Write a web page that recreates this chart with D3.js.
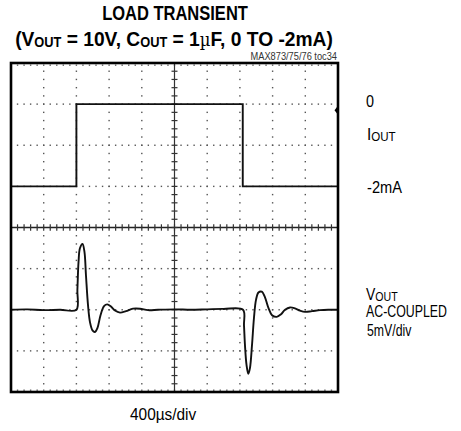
<!DOCTYPE html>
<html>
<head>
<meta charset="utf-8">
<script src="https://cdn.jsdelivr.net/npm/d3@7/dist/d3.min.js"></script>
<style>
  html, body { margin: 0; padding: 0; background: #fff; }
  svg { display: block; }
  text { font-family: "Liberation Sans", Arial, Helvetica, sans-serif; fill: #000; }
</style>
</head>
<body>
<svg id="chart" width="461" height="431"></svg>
<script>
// Time axis: 400 µs per division, 10 divisions
const timeDomain = [0, 4000];
const timeDivision = 400;
const minorPerDivision = 5;

// Channel 1: load current (mA), 1 mA/div, 8 divisions
const iDomain = [-7, 1];
const iTime = [0, 800, 800, 2835, 2835, 4000];
const iLoad = [-2, -2, 0, 0, -2, -2];

// Channel 2: output voltage deviation, AC-coupled (mV), 5 mV/div
const vDomain = [-10, 30];
const vTime = [0, 200, 400, 600, 800, 812, 826, 844, 875, 899, 917, 942, 966, 997, 1027, 1058, 1095, 1138, 1178, 1223, 1272, 1333, 1407, 1492, 1578, 1676, 1800, 2000, 2200, 2400, 2600, 2838, 2850, 2862, 2881, 2903, 2923, 2948, 2972, 2997, 3027, 3067, 3107, 3150, 3193, 3250, 3303, 3352, 3413, 3474, 3535, 3596, 3682, 3780, 3880, 4000];
const vOut  = [0, 0.05, -0.05, 0, 0, 2.4, 5.8, 7.5, 8.0, 7.0, 4.2, 0.56, -1.5, -2.5, -2.7, -2.2, -0.66, 0.44, 0.65, 0.38, -0.1, -0.35, -0.17, 0.13, 0.13, -0.05, 0, 0.05, 0, 0.05, 0.1, 0, -1.9, -4.3, -6.7, -7.8, -7.1, -4.3, -1.0, 1.2, 2.1, 2.2, 1.5, 0.2, -0.66, -0.86, -0.54, 0, 0.28, 0.16, -0.1, -0.26, -0.17, -0.05, 0, 0];

// Labels
const titleLine1 = "LOAD TRANSIENT";
const noteText = "MAX873/75/76 toc34";
const timebaseText = "400\u00B5s/div";

const svg = d3.select("#chart");
const plot = { left: 11, top: 63, right: 338, bottom: 392 };

const x = d3.scaleLinear().domain(timeDomain).range([plot.left, plot.right]);
const yI = d3.scaleLinear().domain(iDomain).range([plot.bottom, plot.top]);
const yV = d3.scaleLinear().domain(vDomain).range([plot.bottom, plot.top]);

// ---- Graticule ----
const grid = svg.append("g").attr("class", "graticule");
const majorX = d3.range(timeDomain[0] + timeDivision, timeDomain[1], timeDivision);
const majorY = d3.range(iDomain[0] + 1, iDomain[1], 1);
const minorXStep = timeDivision / minorPerDivision;
const minorYStep = 1 / minorPerDivision;
const minorX = d3.range(timeDomain[0], timeDomain[1] + 1e-6, minorXStep);
const minorY = d3.range(iDomain[0], iDomain[1] + 1e-6, minorYStep);
const centerT = (timeDomain[0] + timeDomain[1]) / 2;
const centerI = (iDomain[0] + iDomain[1]) / 2;
const dot = 1.4;

// dotted vertical division lines
majorX.filter(t => t !== centerT).forEach(t => {
  grid.selectAll(null).data(minorY).enter().append("rect")
    .attr("x", x(t) - dot / 2).attr("y", d => yI(d) - dot / 2)
    .attr("width", dot).attr("height", dot).attr("fill", "#555");
});
// dotted horizontal division lines
majorY.filter(v => v !== centerI).forEach(v => {
  grid.selectAll(null).data(minorX).enter().append("rect")
    .attr("x", d => x(d) - dot / 2).attr("y", yI(v) - dot / 2)
    .attr("width", dot).attr("height", dot).attr("fill", "#555");
});
// dotted edge rows along top and bottom
[iDomain[1], iDomain[0]].forEach(v => {
  grid.selectAll(null).data(minorX).enter().append("rect")
    .attr("x", d => x(d) - dot / 2).attr("y", yI(v) + (v === iDomain[1] ? 1.5 : -2.5))
    .attr("width", dot).attr("height", dot).attr("fill", "#666");
});

// centre axes with minor ticks
grid.append("line")
  .attr("x1", x(centerT)).attr("x2", x(centerT))
  .attr("y1", plot.top).attr("y2", plot.bottom)
  .attr("stroke", "#333").attr("stroke-width", 1.2);
grid.append("line")
  .attr("x1", plot.left).attr("x2", plot.right)
  .attr("y1", yI(centerI)).attr("y2", yI(centerI))
  .attr("stroke", "#222").attr("stroke-width", 1.3);
grid.selectAll(null).data(minorY).enter().append("line")
  .attr("x1", x(centerT) - 3).attr("x2", x(centerT) + 3)
  .attr("y1", d => yI(d)).attr("y2", d => yI(d))
  .attr("stroke", "#333").attr("stroke-width", 1.2);
grid.selectAll(null).data(minorX).enter().append("line")
  .attr("x1", d => x(d)).attr("x2", d => x(d))
  .attr("y1", yI(centerI) - 3.2).attr("y2", yI(centerI) + 3.2)
  .attr("stroke", "#333").attr("stroke-width", 1.2);

// ---- Traces ----
const iLine = d3.line().x(d => x(d[0])).y(d => yI(d[1])).curve(d3.curveLinear);
svg.append("path")
  .datum(d3.zip(iTime, iLoad))
  .attr("d", iLine)
  .attr("fill", "none").attr("stroke", "#111").attr("stroke-width", 1.9);

const vLine = d3.line().x(d => x(d[0])).y(d => yV(d[1])).curve(d3.curveCatmullRom.alpha(0.5));
svg.append("path")
  .datum(d3.zip(vTime, vOut))
  .attr("d", vLine)
  .attr("fill", "none").attr("stroke", "#111").attr("stroke-width", 1.9)
  .attr("stroke-linejoin", "round");

// ---- Frame ----
svg.append("rect")
  .attr("x", plot.left).attr("y", plot.top)
  .attr("width", plot.right - plot.left).attr("height", plot.bottom - plot.top)
  .attr("fill", "none").attr("stroke", "#000").attr("stroke-width", 2.6);

// channel reference marker on the right edge
const my = yI(-0.15);
svg.append("path")
  .attr("d", `M${plot.right},${my - 4.5} L${plot.right - 3.5},${my} L${plot.right},${my + 4.5} Z`)
  .attr("fill", "#000");

// ---- Text ----
// Condensed lettering: lay text out naturally, then squeeze it horizontally to a width
function narrowText(px, py, width, anchor, size, weight) {
  const g = svg.append("g");
  const t = g.append("text")
    .attr("x", 0).attr("y", 0)
    .attr("text-anchor", anchor)
    .attr("font-size", size)
    .attr("font-weight", weight || "normal");
  t.fit = () => {
    const w = t.node().getBBox().width;
    g.attr("transform", `translate(${px},${py}) scale(${width / w},1)`);
    return t;
  };
  return t;
}

narrowText(175, 20, 146, "middle", 21, "bold").text(titleLine1).fit();

const t2 = narrowText(174, 46, 318, "middle", 21, "bold");
t2.append("tspan").text("(V");
t2.append("tspan").attr("font-size", 14).attr("dy", 1).text("OUT");
t2.append("tspan").attr("dy", -1).text(" = 10V, C");
t2.append("tspan").attr("font-size", 14).attr("dy", 1).text("OUT");
t2.append("tspan").attr("dy", -1).text(" = 1");
t2.append("tspan").attr("font-weight", "normal").attr("font-family", "DejaVu Serif, serif").attr("font-size", 18).text("\u00B5");
t2.append("tspan").text("F, 0 TO -2mA)");
t2.fit();

narrowText(337, 60, 87, "end", 10, "normal").style("fill", "#333").text(noteText).fit();

narrowText(366, 107, 8, "start", 16.5).text("0").fit();
const iLbl = narrowText(367, 140, 29, "start", 16.5);
iLbl.append("tspan").text("I");
iLbl.append("tspan").attr("font-size", 12.5).attr("dy", 1).text("OUT");
iLbl.fit();
narrowText(367, 193, 35, "start", 16.5).text("-2mA").fit();
const vLbl = narrowText(366, 300, 32, "start", 16.5);
vLbl.append("tspan").text("V");
vLbl.append("tspan").attr("font-size", 12.5).attr("dy", 1).text("OUT");
vLbl.fit();
narrowText(366, 317, 81, "start", 16.5).text("AC-COUPLED").fit();
narrowText(367, 336, 45, "start", 16.5).text("5mV/div").fit();

narrowText(130, 420, 67, "start", 16.5).text(timebaseText).fit();
</script>
</body>
</html>
